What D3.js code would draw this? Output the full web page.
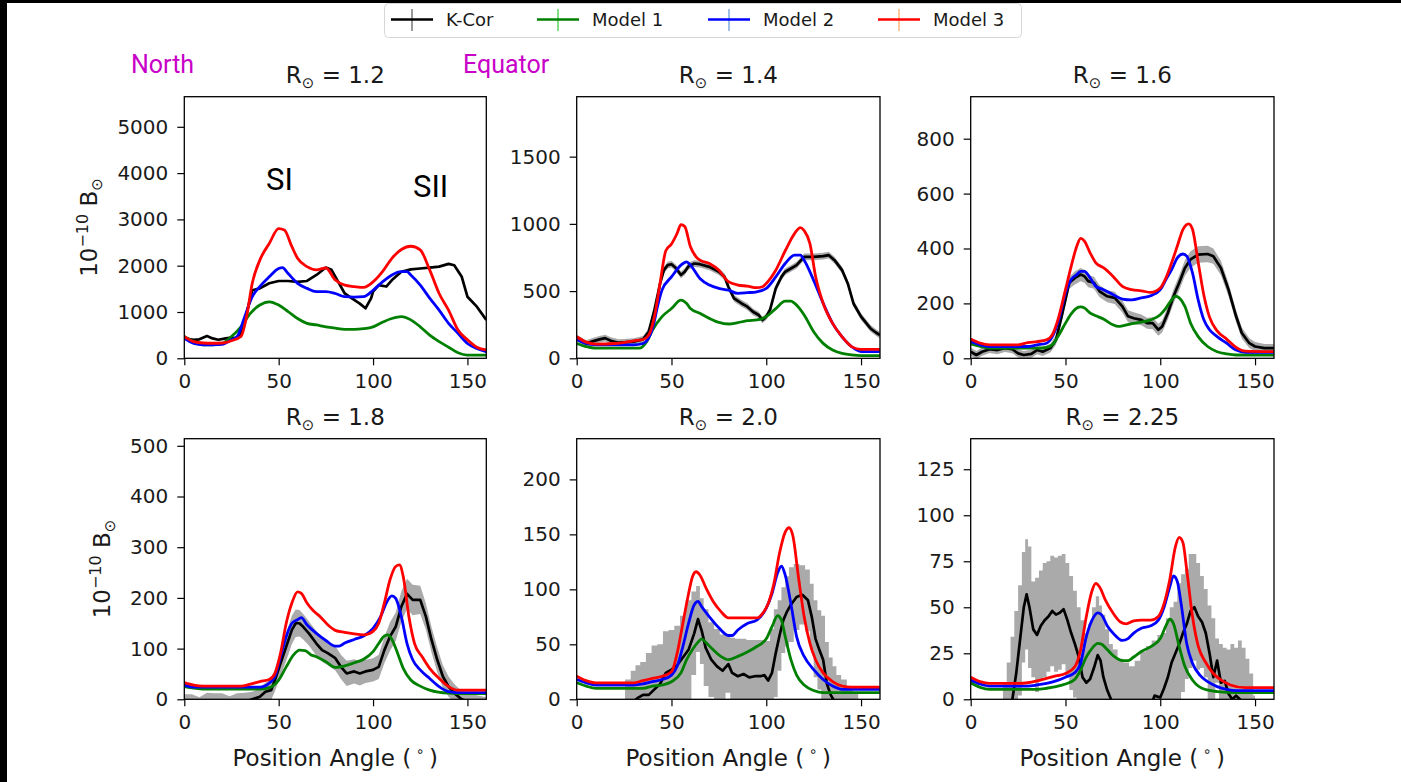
<!DOCTYPE html>
<html>
<head>
<meta charset="utf-8">
<script src="https://cdn.jsdelivr.net/npm/d3@7"></script>
<style>
  body { margin: 0; background: #fff; }
  svg { display: block; font-family: "DejaVu Sans", sans-serif; }
</style>
</head>
<body>
<div id="chart"></div>
<script>
// ---- data: [position angle, brightness] ----
var panelTitles = ["1.2", "1.4", "1.6", "1.8", "2.0", "2.25"];
var yMaxes = [5650, 1946, 953, 514, 237, 141.6];
var yTicks = [
  [0, 1000, 2000, 3000, 4000, 5000],
  [0, 500, 1000, 1500],
  [0, 200, 400, 600, 800],
  [0, 100, 200, 300, 400, 500],
  [0, 50, 100, 150, 200],
  [0, 25, 50, 75, 100, 125]
];
var xTicks = [0, 50, 100, 150];
var seriesNames = ["K-Cor", "Model 1", "Model 2", "Model 3"];

// K-Cor: [angle, value, error]
var kcor12 = [[0,430,15],[5,400,15],[8,410,15],[12,480,15],[15,430,15],[18,400,15],[22,430,15],[25,450,15],[28,430,15],[30,540,15],[33,970,15],[36,1470,15],[40,1510,15],[45,1620,15],[50,1670,15],[55,1670,15],[60,1650,15],[65,1670,15],[70,1800,15],[75,1960,15],[78,1910,15],[82,1620,15],[85,1400,15],[90,1260,15],[93,1180,15],[96,1080,15],[99,1300,15],[100,1440,15],[103,1580,15],[107,1550,15],[110,1690,15],[115,1870,15],[120,1920,15],[125,1940,15],[130,1960,15],[135,1980,15],[140,2040,15],[143,2010,15],[147,1760,15],[150,1330,15],[155,1115,15],[160,830,15]];
var kcor14 = [[0,150,25],[5,110,25],[8,124,25],[12,141,25],[15,150,25],[18,131,25],[22,116,25],[25,119,25],[30,124,25],[35,141,25],[38,198,25],[41,360,25],[44,557,25],[46,656,25],[48,693,25],[50,700,25],[52,676,25],[55,620,25],[57,644,25],[59,685,25],[62,705,25],[65,700,25],[70,680,25],[75,644,25],[78,606,25],[80,532,25],[83,445,25],[87,408,25],[90,384,25],[93,346,25],[96,322,25],[98,285,25],[100,310,25],[102,360,25],[105,520,25],[108,606,25],[110,644,25],[113,668,25],[116,693,25],[120,755,25],[125,755,25],[130,760,25],[133,767,25],[136,730,25],[140,656,25],[143,557,25],[146,408,25],[150,310,25],[155,222,25],[158,190,25],[160,173,25]];
var kcor16 = [[0,24,15],[3,12,15],[6,24,15],[10,33,14],[14,30,15],[18,37,14],[22,33,15],[25,18,15],[28,12,15],[32,16,15],[35,30,15],[38,24,16],[42,37,16],[45,67,18],[48,153,20],[52,275,22],[55,293,24],[58,305,24],[60,299,24],[62,281,22],[65,275,22],[68,244,22],[72,226,22],[76,220,22],[80,189,22],[83,153,22],[86,146,22],[90,140,20],[93,128,20],[96,128,22],[99,104,22],[101,116,22],[104,165,24],[107,226,26],[110,275,28],[113,329,28],[116,360,30],[120,378,30],[125,380,30],[128,372,28],[132,329,26],[136,250,24],[140,153,22],[143,92,20],[147,55,18],[150,43,16],[155,37,15],[160,37,15]];
var kcor18 = [[0,-8,18],[4,-6,16],[8,-10,14],[12,-5,18],[16,-8,20],[20,-6,18],[24,-10,16],[28,-8,20],[32,-5,18],[36,0,15],[40,5,16],[43,15,18],[46,18,20],[48,38,22],[51,71,25],[54,104,28],[57,137,28],[59,150,27],[61,150,26],[63,143,25],[66,130,24],[70,110,24],[73,97,23],[76,91,24],[80,81,24],[83,64,24],[86,51,25],[90,55,24],[93,51,24],[96,55,23],[100,58,23],[103,64,24],[106,97,26],[109,124,28],[112,143,28],[115,183,30],[118,208,30],[121,196,30],[125,196,28],[128,163,26],[131,117,25],[134,78,24],[137,45,22],[140,25,20],[143,12,18],[147,0,16],[150,-4,15],[155,-6,14],[160,-8,12]];
var kcor20 = [[24,-8,8],[27,-4,22],[30,-2,28],[32,1,30],[35,4,30],[38,4,38],[41,9,40],[44,14,36],[47,24,38],[50,27,36],[53,31,36],[56,38,38],[59,45,45],[62,60,38],[64,73,30],[66,62,30],[68,47,35],[71,36,34],[74,30,34],[77,26,33],[80,32,26],[82,24,32],[85,21,34],[88,23,32],[91,20,34],[94,21,33],[97,21,33],[99,22,32],[101,17,36],[103,24,40],[105,42,40],[107,58,32],[109,72,30],[111,80,32],[113,86,34],[116,93,30],[119,95,27],[122,90,28],[124,75,30],[126,55,35],[128,45,36],[130,36,40],[132,14,38],[134,4,34],[136,-2,32],[138,-6,28],[141,-10,28],[144,-12,24],[147,-15,20],[150,-18,16]];
var kcor225 = [[16,-20,20],[18,-15,24],[20,-8,28],[22,0,34],[24,14,34],[26,32,30],[28,50,30],[29.5,57,30],[31,50,33],[33,38,26],[35,35,31],[37,40,30],[39,43,31],[41,45,30],[43,48,30],[45,46,31],[47,47,31],[49,49,30],[51,43,31],[53,36,31],[55,30,29],[57,23,27],[59,12,31],[61,9,27],[63,11,30],[65,17,33],[67,24,32],[68.5,21,30],[70,12,34],[72,5,33],[74,0,30],[76,-6,33],[79,-8,30],[82,-10,30],[85,-10,28],[88,-10,31],[91,-8,34],[94,-6,35],[97,2,30],[100,1,34],[102,6,30],[104,12,32],[106,20,30],[108,25,28],[110,30,33],[112,36,32],[114,41,30],[116,48,31],[118,50,29],[120,45,29],[122,42,25],[124,36,24],[126,25,26],[128,12,32],[130,21,12],[132,9,21],[134,10,18],[136,3,24],[138,0,30],[140,2,26],[142,0,32],[144,-2,30],[146,-4,26],[148,-6,20],[150,-8,10]];

// Model 1 (green)
var m1_12 = [[0,470],[5,360],[10,290],[15,290],[20,320],[25,470],[30,680],[35,970],[40,1150],[45,1220],[50,1150],[55,1010],[60,860],[65,755],[70,720],[75,680],[80,650],[85,625],[90,625],[95,640],[100,680],[105,780],[110,860],[115,900],[120,830],[125,680],[130,500],[135,360],[140,240],[145,120],[150,70],[155,70],[160,70]];
var m1_14 = [[0,110],[5,87],[10,75],[20,75],[30,75],[33,75],[37,125],[40,210],[45,310],[50,370],[55,433],[58,408],[60,370],[65,335],[70,297],[75,267],[80,255],[85,265],[90,280],[95,285],[100,310],[105,370],[110,425],[113,425],[115,408],[120,322],[125,198],[130,111],[135,62],[140,37],[145,25],[150,20],[160,20]];
var m1_16 = [[0,52],[5,43],[10,37],[35,37],[40,40],[43,49],[46,79],[50,128],[53,162],[56,183],[58,187],[60,183],[63,165],[66,155],[70,143],[75,122],[78,116],[80,118],[85,126],[90,132],[95,140],[100,159],[103,183],[106,213],[108,226],[110,220],[113,189],[116,128],[120,79],[125,43],[130,24],[135,16],[140,12],[160,12]];
var m1_18 = [[0,25],[5,22],[10,20],[40,20],[45,23],[50,38],[54,64],[58,88],[61,97],[64,96],[67,88],[70,84],[75,74],[80,63],[85,66],[90,72],[95,79],[100,94],[103,110],[106,125],[108,127],[110,118],[113,91],[116,61],[120,38],[125,26],[130,18],[140,12],[150,11],[160,11]];
var m1_20 = [[0,15],[5,12],[10,10],[35,10],[40,12],[45,13],[50,16],[55,24],[58,36],[61,45],[64,52],[66,55],[68,52],[72,45],[76,39],[80,36],[85,39],[90,43],[95,48],[100,55],[103,66],[106,76],[108,72],[110,57],[113,36],[116,22],[120,13],[125,8],[130,6],[160,6]];
var m1_225 = [[0,9],[5,6.5],[10,5.4],[35,5.4],[40,6],[45,6.9],[50,8.3],[55,10.9],[58,16],[61,23],[64,27.7],[67,30.4],[69,30],[72,27],[76,23],[80,21],[83,21],[86,23],[90,26],[95,28.6],[100,33],[103,40],[105,43.5],[107,41],[110,28.6],[113,17.8],[117,10.5],[122,6],[130,4.2],[140,3.6],[160,3.6]];

// Model 2 (blue)
var m2_12 = [[0,430],[5,320],[10,290],[15,290],[20,300],[25,400],[28,470],[32,900],[36,1330],[40,1550],[45,1760],[50,1940],[52,1960],[55,1830],[60,1620],[65,1510],[70,1440],[75,1440],[80,1400],[85,1330],[90,1320],[95,1330],[100,1470],[105,1650],[110,1800],[115,1870],[118,1870],[120,1800],[125,1580],[130,1300],[135,1040],[140,755],[145,540],[150,320],[155,215],[160,145]];
var m2_14 = [[0,140],[5,110],[10,100],[20,100],[30,100],[35,110],[40,222],[43,408],[45,507],[50,605],[55,693],[58,718],[60,693],[65,594],[70,545],[75,520],[80,507],[85,483],[90,488],[95,495],[100,520],[105,605],[110,705],[115,767],[118,767],[120,730],[125,580],[130,410],[135,260],[140,160],[145,87],[150,50],[160,50]];
var m2_16 = [[0,61],[5,49],[10,43],[30,43],[35,49],[40,55],[44,92],[47,153],[50,238],[53,287],[56,305],[58,317],[60,317],[63,293],[66,262],[70,250],[75,232],[80,216],[85,213],[90,220],[95,228],[100,250],[103,287],[106,323],[109,366],[112,380],[114,372],[117,311],[120,213],[123,140],[126,104],[130,79],[135,55],[140,30],[145,22],[160,22]];
var m2_18 = [[0,28],[5,24],[40,24],[45,32],[48,45],[51,84],[54,124],[57,150],[60,157],[62,161],[65,147],[70,130],[75,116],[80,105],[82,105],[85,111],[90,118],[95,125],[100,140],[104,163],[107,190],[110,204],[112,199],[115,163],[118,110],[121,78],[125,58],[130,41],[135,25],[140,15],[145,13],[160,13]];
var m2_20 = [[0,18],[5,15],[10,13],[30,13],[35,14],[40,16],[45,18],[50,22],[53,30],[56,48],[59,69],[62,86],[64,89],[66,84],[70,75],[75,65],[80,58],[82,58],[85,63],[90,69],[95,72],[100,83],[103,96],[106,115],[108,121],[110,113],[113,87],[116,57],[120,39],[125,27],[130,18],[135,12],[140,9],[160,9]];
var m2_225 = [[0,10.5],[5,8.3],[10,7.2],[30,7.2],[35,7.8],[40,8.7],[45,10],[50,12],[55,14.5],[58,19.6],[61,34],[64,43],[67,47],[69,46],[72,40],[76,35],[80,32],[83,33],[86,36],[90,38.6],[95,40],[99,43],[102,50],[105,61],[107,67],[109,64],[111,52],[114,30],[117,19.6],[121,13],[125,9.6],[130,6.9],[135,5.4],[140,4.7],[160,4.7]];

// Model 3 (red)
var m3_12 = [[0,470],[5,360],[10,330],[15,325],[20,330],[25,380],[30,470],[33,900],[36,1620],[40,2120],[45,2480],[50,2800],[53,2770],[57,2410],[60,2160],[65,1980],[70,1910],[75,1950],[80,1690],[85,1580],[90,1550],[95,1530],[100,1650],[105,1870],[110,2160],[115,2350],[120,2420],[125,2340],[130,1910],[135,1400],[140,1040],[145,610],[150,400],[155,240],[160,180]];
var m3_14 = [[0,160],[5,120],[10,106],[20,110],[30,130],[35,140],[38,173],[41,310],[44,560],[47,800],[50,850],[53,930],[55,995],[57,980],[60,830],[63,755],[65,730],[70,705],[75,655],[80,570],[85,545],[90,537],[95,525],[98,532],[100,557],[105,655],[110,800],[115,930],[118,972],[120,950],[123,855],[126,610],[130,410],[135,260],[140,160],[145,87],[150,67],[160,67]];
var m3_16 = [[0,70],[5,55],[10,49],[25,49],[30,57],[35,61],[40,67],[43,85],[46,140],[50,250],[53,335],[56,409],[58,437],[60,427],[63,384],[66,348],[70,330],[75,299],[80,262],[85,250],[90,246],[95,240],[100,256],[103,293],[106,348],[109,409],[112,470],[115,490],[117,470],[120,350],[123,230],[126,150],[130,100],[135,70],[140,40],[145,26],[160,24]];
var m3_18 = [[0,33],[5,28],[10,26],[30,26],[35,30],[40,35],[45,39],[48,51],[51,91],[54,150],[57,190],[60,212],[62,209],[65,190],[68,176],[72,163],[76,147],[80,136],[85,132],[90,129],[95,127],[100,134],[103,150],[106,190],[109,236],[112,262],[114,265],[116,242],[119,163],[122,110],[126,84],[130,61],[135,41],[140,25],[145,18],[160,18]];
var m3_20 = [[0,21],[5,17],[10,15],[30,15],[35,17],[40,19],[45,21],[50,25],[53,42],[56,69],[59,96],[61,111],[63,116],[65,113],[68,102],[72,89],[76,80],[80,74],[85,74],[90,74],[95,74],[98,78],[101,87],[104,105],[107,133],[110,152],[112,156],[114,149],[117,111],[120,75],[123,51],[126,36],[130,24],[135,16],[140,12],[145,11],[160,11]];
var m3_225 = [[0,12],[5,9.6],[10,8.7],[25,8.7],[30,9],[35,10],[40,11.4],[45,12.7],[50,14],[55,17.8],[58,27],[61,45],[64,59],[66,63],[68,61],[71,54],[75,47],[79,42],[82,41],[86,42.6],[90,43],[95,43],[99,45],[102,52],[105,65],[108,83],[110,88],[112,85],[114,70],[117,45],[120,29],[124,20],[128,14],[132,10.5],[137,7.8],[145,6.3],[160,6.3]];

var kcorSets = [kcor12, kcor14, kcor16, kcor18, kcor20, kcor225];
var m1Sets = [m1_12, m1_14, m1_16, m1_18, m1_20, m1_225];
var m2Sets = [m2_12, m2_14, m2_16, m2_18, m2_20, m2_225];
var m3Sets = [m3_12, m3_14, m3_16, m3_18, m3_20, m3_225];

var colors = { kcor: "#000000", m1: "#008000", m2: "#0000ff", m3: "#ff0000", band: "#aaaaaa" };
var tickColors = ["#9a9a9a", "#80e080", "#9dbfe8", "#ffc79a"];

// ---- layout ----
var W = 1401, H = 782;
var colX = [[184.3, 486.3], [576.7, 880], [970.7, 1274]];
var rowY = [[96.7, 358.3], [438.7, 699.3]];

var svg = d3.select("#chart").append("svg")
  .attr("width", W).attr("height", H);

svg.append("rect").attr("width", W).attr("height", H).attr("fill", "#fff");
// dark frame edges of the screenshot
svg.append("rect").attr("x", 0).attr("y", 0).attr("width", 7).attr("height", H).attr("fill", "#000");
svg.append("rect").attr("x", 0).attr("y", 0).attr("width", W).attr("height", 3).attr("fill", "#000");

var defs = svg.append("defs");

for (var p = 0; p < 6; p++) {
  var col = p % 3, row = Math.floor(p / 3);
  var x0 = colX[col][0], x1 = colX[col][1];
  var y0 = rowY[row][0], y1 = rowY[row][1];

  var x = d3.scaleLinear().domain([0, 160]).range([x0, x1]);
  var y = d3.scaleLinear().domain([0, yMaxes[p]]).range([y1, y0]);

  defs.append("clipPath").attr("id", "clip" + p)
    .append("rect").attr("x", x0).attr("y", y0)
    .attr("width", x1 - x0).attr("height", y1 - y0);

  var g = svg.append("g");
  var plot = g.append("g").attr("clip-path", "url(#clip" + p + ")");

  // noisy outer panels get the stepped error band, the rest a plain one
  var band = d3.area()
    .x(function(d) { return x(d[0]); })
    .y0(function(d) { return y(d[1] - d[2]); })
    .y1(function(d) { return y(d[1] + d[2]); })
    .curve(p >= 4 ? d3.curveStep : d3.curveLinear);

  var kline = d3.line()
    .x(function(d) { return x(d[0]); })
    .y(function(d) { return y(d[1]); });

  var mline = d3.line()
    .x(function(d) { return x(d[0]); })
    .y(function(d) { return y(d[1]); })
    .curve(d3.curveMonotoneX);

  plot.append("path").datum(kcorSets[p])
    .attr("d", band).attr("fill", colors.band).attr("stroke", "none");

  plot.append("path").datum(kcorSets[p])
    .attr("d", kline).attr("fill", "none").attr("stroke", colors.kcor)
    .attr("stroke-width", 2.7).attr("stroke-linejoin", "round");

  [[m1Sets[p], colors.m1], [m2Sets[p], colors.m2], [m3Sets[p], colors.m3]].forEach(function(s) {
    plot.append("path").datum(s[0])
      .attr("d", mline).attr("fill", "none").attr("stroke", s[1])
      .attr("stroke-width", 2.8).attr("stroke-linejoin", "round");
  });

  // axes
  var ax = g.append("g").attr("transform", "translate(0," + y1 + ")")
    .call(d3.axisBottom(x).tickValues(xTicks).tickSize(7).tickPadding(9).tickFormat(d3.format("d")));
  var ay = g.append("g").attr("transform", "translate(" + x0 + ",0)")
    .call(d3.axisLeft(y).tickValues(yTicks[p]).tickSize(7).tickPadding(9).tickFormat(d3.format("d")));
  [ax, ay].forEach(function(a) {
    a.select(".domain").remove();
    a.selectAll(".tick line").attr("stroke", "#000").attr("stroke-width", 1.2);
    a.selectAll(".tick text").attr("fill", "#1a1a1a").style("font-size", "20px")
      .style("font-family", "DejaVu Sans, sans-serif");
  });

  g.append("rect").attr("x", x0).attr("y", y0)
    .attr("width", x1 - x0).attr("height", y1 - y0)
    .attr("fill", "none").attr("stroke", "#000").attr("stroke-width", 1.3);

  // title  R_sun = ...
  var t = g.append("text").attr("x", (x0 + x1) / 2).attr("y", y0 - 14)
    .attr("text-anchor", "middle").attr("fill", "#1a1a1a").style("font-size", "23px");
  t.append("tspan").text("R");
  t.append("tspan").attr("dy", 5).style("font-size", "15px").text("\u2299");
  t.append("tspan").attr("dy", -5).text(" = " + panelTitles[p]);

  // y label on first column
  if (col === 0) {
    var lx = row === 0 ? 97 : 110;
    var yl = g.append("text")
      .attr("transform", "translate(" + lx + "," + (y0 + y1) / 2 + ") rotate(-90)")
      .attr("text-anchor", "middle").attr("fill", "#1a1a1a").style("font-size", "23px");
    yl.append("tspan").text("10");
    yl.append("tspan").attr("dy", -9).style("font-size", "16px").text("\u221210");
    yl.append("tspan").attr("dy", 9).text(" B");
    yl.append("tspan").attr("dy", 5).style("font-size", "15px").text("\u2299");
  }

  // x label on bottom row
  if (row === 1) {
    var xl = g.append("text").attr("x", (x0 + x1) / 2).attr("y", 766)
      .attr("text-anchor", "middle").attr("fill", "#1a1a1a").style("font-size", "23px");
    xl.append("tspan").text("Position Angle (\u2009");
    xl.append("tspan").attr("dy", -10).style("font-size", "14px").text("\u2218");
    xl.append("tspan").attr("dy", 10).text("\u2009)");
  }
}

// ---- legend ----
var leg = svg.append("g");
leg.append("rect").attr("x", 384.5).attr("y", 3.5).attr("width", 637).attr("height", 34)
  .attr("rx", 4).attr("fill", "#fff").attr("stroke", "#d6d6d6").attr("stroke-width", 1);
var legX = [391, 537, 708, 878];
var legColors = [colors.kcor, colors.m1, colors.m2, colors.m3];
seriesNames.forEach(function(name, i) {
  var lx = legX[i];
  leg.append("line").attr("x1", lx + 21).attr("x2", lx + 21).attr("y1", 9).attr("y2", 31)
    .attr("stroke", tickColors[i]).attr("stroke-width", 2);
  leg.append("line").attr("x1", lx).attr("x2", lx + 42).attr("y1", 19.5).attr("y2", 19.5)
    .attr("stroke", legColors[i]).attr("stroke-width", 2.5);
  leg.append("text").attr("x", lx + 55).attr("y", 26).attr("fill", "#1a1a1a")
    .style("font-size", "18px").text(name);
});

// ---- annotations ----
function note(txt, xx, yy, size, color) {
  svg.append("text").attr("x", xx).attr("y", yy).attr("fill", color)
    .style("font-family", "Roboto, sans-serif").style("font-size", size + "px").text(txt);
}
note("North", 131, 73, 25, "#c800c8");
note("Equator", 463, 73, 25, "#c800c8");
note("SI", 266, 190, 31, "#000");
note("SII", 413, 197, 31, "#000");
</script>
</body>
</html>
